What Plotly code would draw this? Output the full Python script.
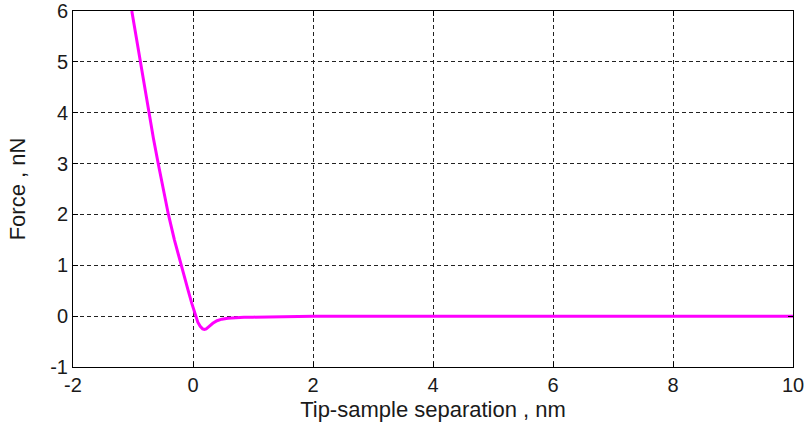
import plotly.graph_objects as go

# Tip-sample force curve (separation in nm, force in nN)
separation_nm = [-1.02, -0.95, -0.87, -0.80, -0.73, -0.66, -0.58, -0.50, -0.41, -0.31,
                 -0.20, -0.14, -0.08, -0.02, 0.04, 0.08, 0.12, 0.16, 0.19, 0.22,
                 0.27, 0.33, 0.40, 0.48, 0.58, 0.70, 0.85, 1.00, 1.32, 1.36,
                 2.0, 4.0, 6.0, 8.0, 10.0]
force_nN = [6.0, 5.5, 5.0, 4.5, 4.0, 3.5, 3.0, 2.5, 2.0, 1.5,
            1.0, 0.75, 0.5, 0.25, 0.0, -0.12, -0.2, -0.25, -0.26, -0.25,
            -0.2, -0.14, -0.09, -0.06, -0.04, -0.03, -0.02, -0.02, -0.015, 0.0,
            0.0, 0.0, 0.0, 0.0, 0.0]

x_ticks = [-2, 0, 2, 4, 6, 8, 10]
y_ticks = [-1, 0, 1, 2, 3, 4, 5, 6]

tick_font = dict(family="Liberation Sans, Arial, sans-serif", size=20, color="#1a1a1a")
title_font = dict(family="Liberation Sans, Arial, sans-serif", size=22, color="#1a1a1a")

fig = go.Figure(go.Scatter(
    x=separation_nm, y=force_nN, mode="lines",
    line=dict(color="#ff00ff", width=3),
    showlegend=False,
))

axis_common = dict(
    showline=True, linecolor="black", linewidth=1, mirror="ticks",
    ticks="inside", ticklen=5, tickcolor="black", tickwidth=1,
    showgrid=True, gridcolor="#222222", gridwidth=1, griddash="4px,3px",
    zeroline=False, tickfont=tick_font, automargin=False,
)

fig.update_layout(
    width=806, height=433,
    margin=dict(l=73, r=13, t=11, b=66),
    paper_bgcolor="white", plot_bgcolor="white",
    font=tick_font,
    xaxis=dict(range=[-2, 10], tickvals=x_ticks, ticktext=[str(v) for v in x_ticks],
               title=dict(text="Tip-sample separation , nm", font=title_font, standoff=6),
               **axis_common),
    yaxis=dict(range=[-1, 6], tickvals=y_ticks, ticktext=[str(v) for v in y_ticks],
               title=dict(text="Force , nN", font=title_font, standoff=18),
               **axis_common),
)

fig.write_html("out.html")
